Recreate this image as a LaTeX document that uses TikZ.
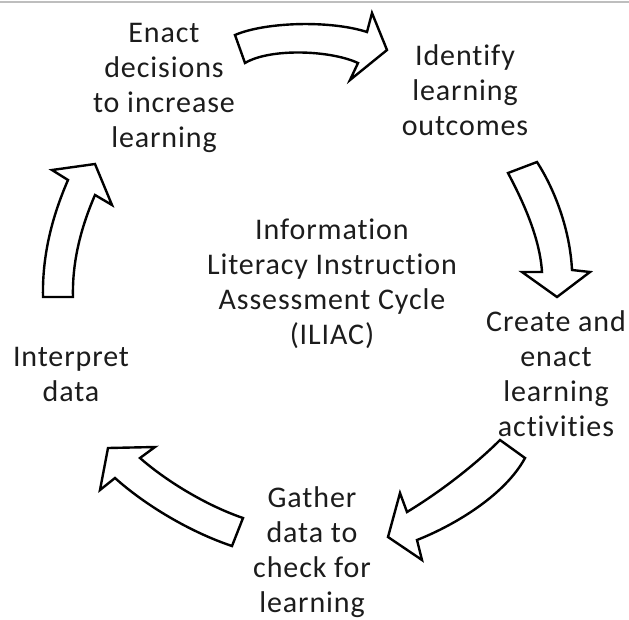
\documentclass[tikz,border=0pt]{standalone}
\usepackage{fontspec}
\setmainfont{Carlito}[Ligatures=NoCommon, LetterSpace=3]
\usepackage{tikz}
\usetikzlibrary{positioning}
\definecolor{textcolor}{RGB}{28, 28, 28}
\definecolor{rulecolor}{RGB}{190, 190, 190}

\begin{document}
\begin{tikzpicture}[
    x=1pt, y=-1pt,
    label/.style={align=center, inner sep=0pt, text=textcolor, font=\fontsize{30}{35}\selectfont},
    blockarrow/.style={draw=black, fill=white, line width=2.4pt, line join=miter}
]
    \useasboundingbox (0,0) rectangle (629,619);
    \draw[rulecolor, line width=1.2pt] (0,2) -- (629,2);

    % Stages of the cycle
    \node[label] (enact) at (164,88) {Enact\\decisions\\to increase\\learning};
    \node[label] (identify) at (465,90) {Identify\\learning\\outcomes};
    \node[label] (create) at (556,374) {Create and\\enact\\learning\\activities};
    \node[label] (gather) at (312,552) {Gather\\data to\\check for\\learning};
    \node[label] (interpret) at (71,374) {Interpret\\data};
    \node[label] (cycle) at (332,284) {Information\\Literacy Instruction\\Assessment Cycle\\(ILIAC)};

    % Curved block arrows
    \draw[blockarrow] (235,35) .. controls (265,22) and (330,20) .. (367,32)
        -- (372,13) -- (387,50) -- (350,80) -- (358,63)
        .. controls (330,50) and (270,48) .. (245,63) -- cycle;
    \draw[blockarrow] (508,173) .. controls (525,205) and (540,240) .. (542,272)
        -- (522,272) -- (557,297) -- (590,272) -- (572,270)
        .. controls (570,230) and (555,190) .. (537,162) -- cycle;
    \draw[blockarrow] (500,440) .. controls (475,465) and (440,492) .. (407,512)
        -- (400,493) -- (388,537) -- (422,560) -- (417,540)
        .. controls (455,525) and (505,495) .. (525,458) -- cycle;
    \draw[blockarrow] (243,518) .. controls (205,505) and (165,480) .. (140,458)
        -- (155,447) -- (108,448) -- (100,490) -- (115,478)
        .. controls (145,505) and (190,532) .. (232,546) -- cycle;
    \draw[blockarrow] (43,297) .. controls (42,250) and (55,210) .. (68,180)
        -- (52,170) -- (95,164) -- (112,205) -- (95,195)
        .. controls (82,225) and (72,260) .. (73,297) -- cycle;
\end{tikzpicture}
\end{document}
